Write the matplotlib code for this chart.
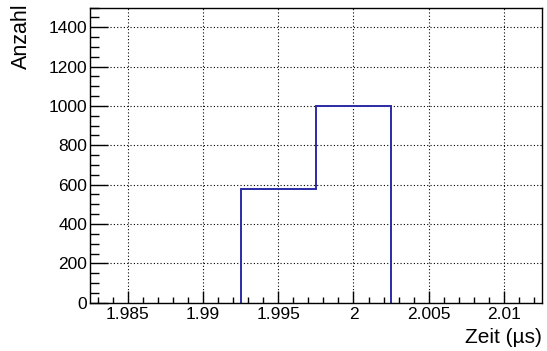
import numpy as np
import matplotlib
matplotlib.use("Agg")
import matplotlib.pyplot as plt
from matplotlib.ticker import MultipleLocator

plt.rcParams['font.family'] = ['Liberation Sans', 'DejaVu Sans']

# Histogram of time values (µs), bin width 0.005
bin_edges = [1.9825, 1.9875, 1.9925, 1.9975, 2.0025, 2.0075, 2.0125]
counts = [0, 0, 580, 1000, 0, 0]

x_ticks = [1.985, 1.99, 1.995, 2.0, 2.005, 2.01]
x_tick_labels = ["1.985", "1.99", "1.995", "2", "2.005", "2.01"]
y_ticks = [0, 200, 400, 600, 800, 1000, 1200, 1400]

fig = plt.figure(figsize=(5.47, 3.51), dpi=100)
W, H = 547, 351
left, right, top, bottom = 90, 541.7, 7.5, 302.7
ax = fig.add_axes([left / W, 1 - bottom / H, (right - left) / W, (bottom - top) / H])

# outline only over the filled bins (empty bins lie on the axis)
nz = [i for i, c in enumerate(counts) if c > 0]
i0, i1 = nz[0], nz[-1] + 1
ax.stairs(counts[i0:i1], bin_edges[i0:i1 + 1], color='#2b2ba6',
          linewidth=1.4, baseline=0, zorder=2)

ax.set_xlim(bin_edges[0], bin_edges[-1])
ax.set_ylim(0, 1500)

ax.set_xticks(x_ticks)
ax.set_xticklabels(x_tick_labels)
ax.xaxis.set_minor_locator(MultipleLocator(0.001))
ax.set_yticks(y_ticks)
ax.yaxis.set_minor_locator(MultipleLocator(50))

ax.tick_params(axis='both', which='both', direction='in', labelsize=12.5, width=1.0, colors='black')
ax.tick_params(axis='x', which='major', length=8.5, pad=3.2)
ax.tick_params(axis='x', which='minor', length=4.5)
ax.tick_params(axis='y', which='major', length=13, pad=2)
ax.tick_params(axis='y', which='minor', length=6.5)

ax.grid(True, which='major', color='black', linestyle=(0, (1, 2)), linewidth=0.8)
ax.set_axisbelow(True)

for s in ax.spines.values():
    s.set_linewidth(1.0)
    s.set_zorder(3)

fig.text(right / W, 1 - 343 / H, "Zeit (µs)", ha='right', va='baseline', fontsize=15)
fig.text(21.5 / W, 1 - 3 / H, "Anzahl", ha='center', va='top', rotation=90, fontsize=15.5)

fig.savefig("out.png", dpi=100)
